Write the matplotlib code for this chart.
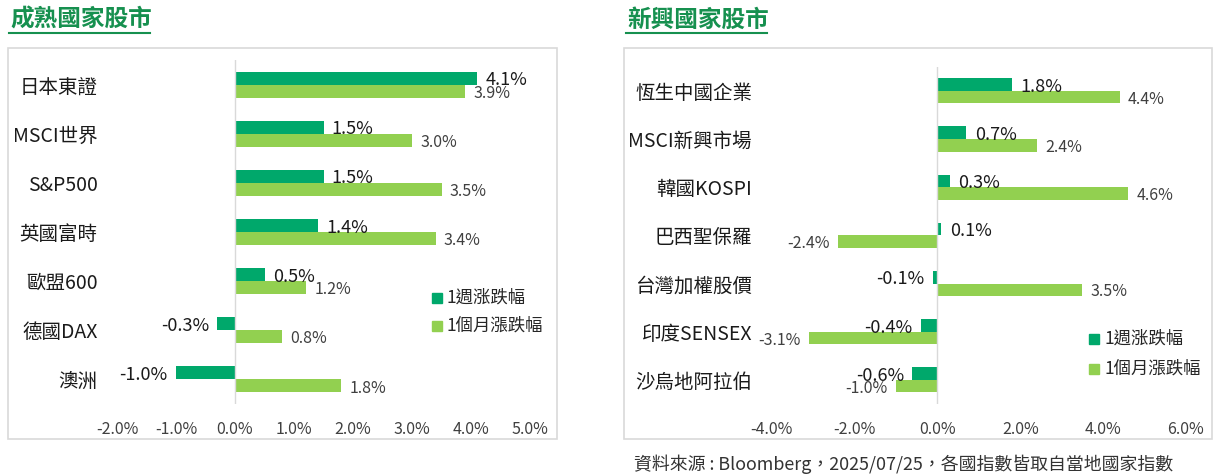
import matplotlib
matplotlib.use("Agg")
import matplotlib.pyplot as plt
from matplotlib.patches import Rectangle
from matplotlib.lines import Line2D
import numpy as np

plt.rcParams['font.family'] = ['Noto Sans CJK TC', 'DejaVu Sans']

# 成熟國家股市
dev_names = ['日本東證', 'MSCI世界', 'S&P500', '英國富時', '歐盟600', '德國DAX', '澳洲']
dev_week = [4.1, 1.5, 1.5, 1.4, 0.5, -0.3, -1.0]
dev_month = [3.9, 3.0, 3.5, 3.4, 1.2, 0.8, 1.8]
dev_ticks = [-2, -1, 0, 1, 2, 3, 4, 5]

# 新興國家股市
em_names = ['恆生中國企業', 'MSCI新興市場', '韓國KOSPI', '巴西聖保羅', '台灣加權股價', '印度SENSEX', '沙烏地阿拉伯']
em_week = [1.8, 0.7, 0.3, 0.1, -0.1, -0.4, -0.6]
em_month = [4.4, 2.4, 4.6, -2.4, 3.5, -3.1, -1.0]
em_ticks = [-4, -2, 0, 2, 4, 6]

legend_labels = ['1週涨跌幅', '1個月漲跌幅']
title_left = '成熟國家股市'
title_right = '新興國家股市'
source = '資料來源 : Bloomberg，2025/07/25，各國指數皆取自當地國家指數'

C_WEEK = '#00A86B'
C_MONTH = '#92D050'
C_TITLE = '#16904F'
C_BOX = '#D9D9D9'

W, H = 1215, 475
fig = plt.figure(figsize=(W / 100, H / 100), dpi=100)


def fx(px):
    return px / W


def fy(py):
    return 1 - py / H


def panel(rect, names, week, month, ticks, bh):
    ax = fig.add_axes(rect)
    y = np.arange(len(names))
    ax.barh(y - bh / 2, week, height=bh, color=C_WEEK)
    ax.barh(y + bh / 2, month, height=bh, color=C_MONTH)
    for i in range(len(names)):
        for v, yy, fs, col, fw in [(week[i], y[i] - bh / 2, 13, '#1a1a1a', 'medium'),
                                   (month[i], y[i] + bh / 2, 11.5, '#404040', 'normal')]:
            off = 6 if v >= 0 else -6
            ax.annotate(f'{v:.1f}%', xy=(v, yy), xytext=(off, -1.5),
                        textcoords='offset points', va='center',
                        ha='left' if v >= 0 else 'right', fontsize=fs,
                        color=col, fontweight=fw)
    ax.axvline(0, color=C_BOX, lw=1)
    ax.set_xlim(ticks[0], ticks[-1])
    ax.set_ylim(len(names) - 0.5, -0.5)
    ax.set_xticks(ticks)
    ax.set_xticklabels([f'{t:.1f}%' for t in ticks])
    ax.set_yticks(y)
    ax.set_yticklabels(names)
    ax.tick_params(axis='x', length=0, pad=12, labelsize=11.5, labelcolor='#404040')
    ax.tick_params(axis='y', length=0, pad=14, labelsize=14, labelcolor='#1a1a1a')
    for s in ax.spines.values():
        s.set_visible(False)
    ax.patch.set_alpha(0)
    return ax


def box(x0, y0, x1, y1):
    fig.patches.append(Rectangle((fx(x0), fy(y1)), fx(x1 - x0), (y1 - y0) / H,
                                 transform=fig.transFigure, fill=False,
                                 edgecolor=C_BOX, lw=1.2))


def title(x0, x1, text):
    fig.text(fx(x0), fy(20), text, fontsize=17, fontweight='bold',
             color=C_TITLE, va='center', ha='left')
    fig.lines.append(Line2D([fx(x0 - 1), fx(x1)], [fy(33), fy(33)],
                            transform=fig.transFigure, color=C_TITLE, lw=1.5))


def legend(x, y, gap):
    for k, (lab, c) in enumerate(zip(legend_labels, [C_WEEK, C_MONTH])):
        yy = y + k * gap
        fig.patches.append(Rectangle((fx(x - 5), fy(yy + 5)), 10 / W, 10 / H,
                                     transform=fig.transFigure, color=c))
        fig.text(fx(x + 10), fy(yy), lab, fontsize=12.5, color='#262626',
                 va='center', ha='left')


box(8, 48, 557, 439)
box(624, 48, 1212, 439)
title(10, 150, title_left)
title(627, 767, title_right)

panel([fx(117), fy(404), fx(530) - fx(117), (404 - 60) / H],
      dev_names, dev_week, dev_month, dev_ticks, 0.265)
panel([fx(771.5), fy(404), fx(1186) - fx(771.5), (404 - 66.7) / H],
      em_names, em_week, em_month, em_ticks, 0.26)

legend(437, 298, 28)
legend(1094, 339, 30)

fig.text(fx(634), fy(464), source, fontsize=12.9, color='#333333', va='center', ha='left')

fig.savefig('out.png', dpi=100)
